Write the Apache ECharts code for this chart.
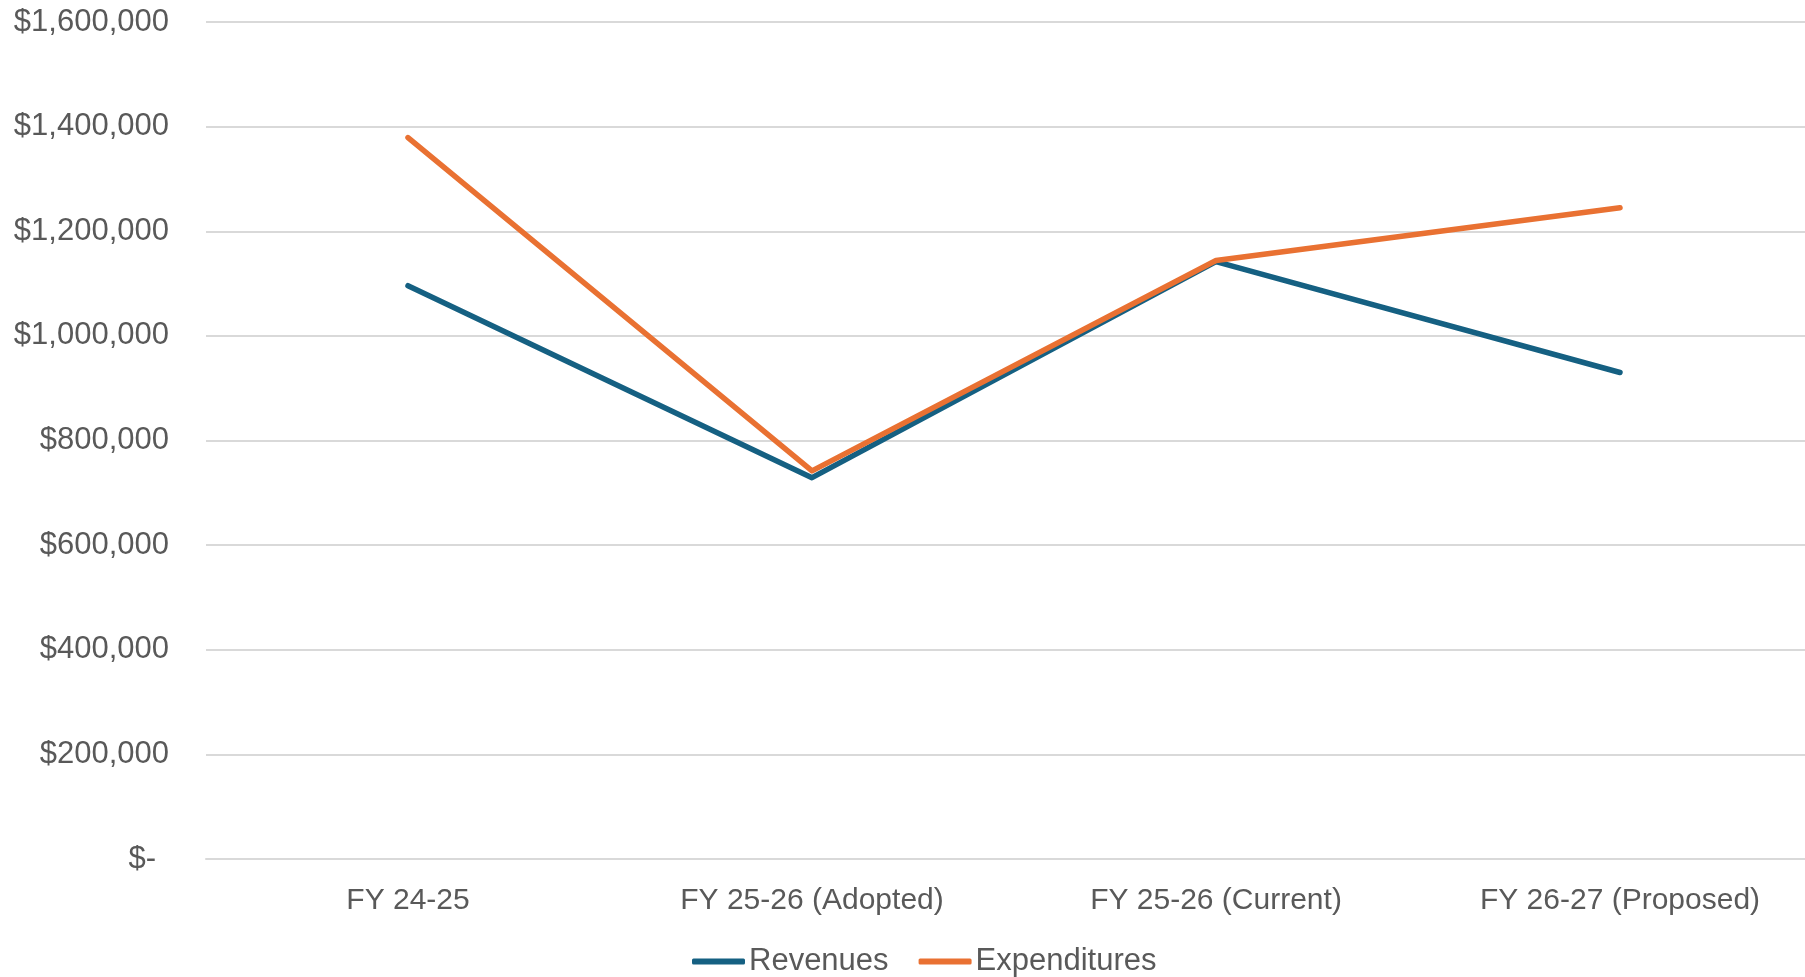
<!DOCTYPE html>
<html>
<head>
<meta charset="utf-8">
<script src="https://cdn.jsdelivr.net/npm/echarts@6/dist/echarts.min.js"></script>
<style>html,body{margin:0;padding:0;background:#fff;}#c{width:1805px;height:977px;}</style>
</head>
<body>
<div id="c"></div>
<script>
const categories = ['FY 24-25', 'FY 25-26 (Adopted)', 'FY 25-26 (Current)', 'FY 26-27 (Proposed)'];
const revenues = [1096000, 729000, 1142000, 930000];
const expenditures = [1379000, 742000, 1144000, 1245000];
const seriesNames = ['Revenues', 'Expenditures'];
const colors = ['#156082', '#E97132'];
const yMin = 0, yMax = 1600000, yStep = 200000;

const FONT = 'Liberation Sans';
const chart = echarts.init(document.getElementById('c'));
chart.setOption({
  animation: false,
  color: colors,
  grid: { left: 206, right: -17, top: 22, bottom: 118, containLabel: false, outerBoundsMode: 'none' },
  legend: {
    data: seriesNames,
    bottom: 0,
    left: 692,
    padding: 0,
    icon: 'roundRect',
    itemWidth: 53,
    itemHeight: 6,
    itemGap: 30,
    textStyle: { fontFamily: FONT, fontSize: 31, color: '#595959', padding: [0, 0, 0, -1] }
  },
  xAxis: {
    type: 'category',
    data: categories,
    boundaryGap: true,
    axisLine: { show: true, lineStyle: { color: '#d9d9d9', width: 2 } },
    axisTick: { show: false },
    axisLabel: { fontFamily: FONT, fontSize: 30, color: '#595959', margin: 27 }
  },
  yAxis: {
    type: 'value',
    min: yMin, max: yMax, interval: yStep,
    axisLine: { show: false },
    axisTick: { show: false },
    splitLine: { lineStyle: { color: '#d9d9d9', width: 2 } },
    axisLabel: {
      fontFamily: FONT, fontSize: 31, color: '#595959', margin: 37,
      formatter: function (v) { return v === 0 ? '{z|$-}' : '$' + v.toLocaleString('en-US'); },
      rich: { z: { fontFamily: FONT, fontSize: 31, color: '#595959', padding: [0, 13, 0, 0] } }
    }
  },
  series: [
    { name: seriesNames[0], type: 'line', data: revenues, symbol: 'none', lineStyle: { width: 5.5, cap: 'round', join: 'round' } },
    { name: seriesNames[1], type: 'line', data: expenditures, symbol: 'none', lineStyle: { width: 5.5, cap: 'round', join: 'round' } }
  ]
});
</script>
</body>
</html>
